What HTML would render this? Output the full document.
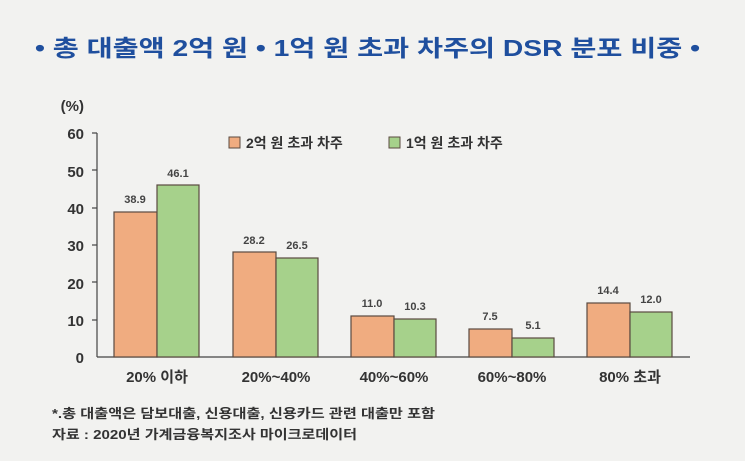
<!DOCTYPE html>
<html><head><meta charset="utf-8"><style>
body{margin:0;background:#f2f2f0;}
svg{display:block;font-family:"Liberation Sans","Noto Sans CJK KR",sans-serif;}
</style></head><body>
<svg width="745" height="461" viewBox="0 0 745 461">
<rect width="745" height="461" fill="#f2f2f0"/>
<text x="35" y="56" font-size="23" font-weight="bold" fill="#1f4f9e" textLength="665" lengthAdjust="spacingAndGlyphs">•  총 대출액 2억 원 • 1억 원 초과 차주의 DSR 분포 비중  •</text>
<g fill="#333" font-size="15" font-weight="bold" text-anchor="end">
<text x="84" y="111">(%)</text>
<text x="84" y="139">60</text><text x="84" y="177">50</text><text x="84" y="214">40</text>
<text x="84" y="251">30</text><text x="84" y="289">20</text><text x="84" y="326">10</text><text x="84" y="363">0</text>
</g>
<g stroke="#444" stroke-width="1.2">
<line x1="97" y1="133" x2="97" y2="357"/>
<line x1="97" y1="357" x2="690" y2="357"/>
<line x1="92" y1="133" x2="97" y2="133"/><line x1="92" y1="170" x2="97" y2="170"/><line x1="92" y1="208" x2="97" y2="208"/>
<line x1="92" y1="245" x2="97" y2="245"/><line x1="92" y1="282" x2="97" y2="282"/><line x1="92" y1="320" x2="97" y2="320"/>
</g>
<g stroke="#5a4a40" stroke-width="1.2">
<rect x="114" y="212" width="43" height="145" fill="#f0ac80"/>
<rect x="157" y="185" width="42" height="172" fill="#a6d18b"/>
<rect x="233" y="252" width="43" height="105" fill="#f0ac80"/>
<rect x="276" y="258" width="42" height="99" fill="#a6d18b"/>
<rect x="351" y="316" width="43" height="41" fill="#f0ac80"/>
<rect x="394" y="319" width="42" height="38" fill="#a6d18b"/>
<rect x="469" y="329" width="43" height="28" fill="#f0ac80"/>
<rect x="512" y="338" width="42" height="19" fill="#a6d18b"/>
<rect x="587" y="303" width="43" height="54" fill="#f0ac80"/>
<rect x="630" y="312" width="42" height="45" fill="#a6d18b"/>
</g>
<g fill="#444" font-size="11" font-weight="bold" text-anchor="middle">
<text x="135" y="203">38.9</text><text x="178" y="177">46.1</text>
<text x="254" y="244">28.2</text><text x="297" y="249">26.5</text>
<text x="372" y="307">11.0</text><text x="415" y="310">10.3</text>
<text x="490" y="320">7.5</text><text x="533" y="329">5.1</text>
<text x="608" y="294">14.4</text><text x="651" y="303">12.0</text>
</g>
<g fill="#333" font-size="15" font-weight="bold" text-anchor="middle">
<text x="157" y="382">20% 이하</text><text x="276" y="382">20%~40%</text>
<text x="394" y="382">40%~60%</text><text x="512" y="382">60%~80%</text><text x="630" y="382">80% 초과</text>
</g>
<rect x="229" y="137" width="11" height="11" fill="#f0ac80" stroke="#5a4a40"/>
<text x="246" y="148" font-size="14" font-weight="bold" fill="#333">2억 원 초과 차주</text>
<rect x="389" y="137" width="11" height="11" fill="#a6d18b" stroke="#5a4a40"/>
<text x="406" y="148" font-size="14" font-weight="bold" fill="#333">1억 원 초과 차주</text>
<g fill="#333" font-size="13" font-weight="bold">
<text x="52" y="418" textLength="383" lengthAdjust="spacingAndGlyphs">*.총 대출액은 담보대출, 신용대출, 신용카드 관련 대출만 포함</text>
<text x="52" y="439" textLength="305" lengthAdjust="spacingAndGlyphs">자료 : 2020년 가계금융복지조사 마이크로데이터</text>
</g>
</svg>
</body></html>
